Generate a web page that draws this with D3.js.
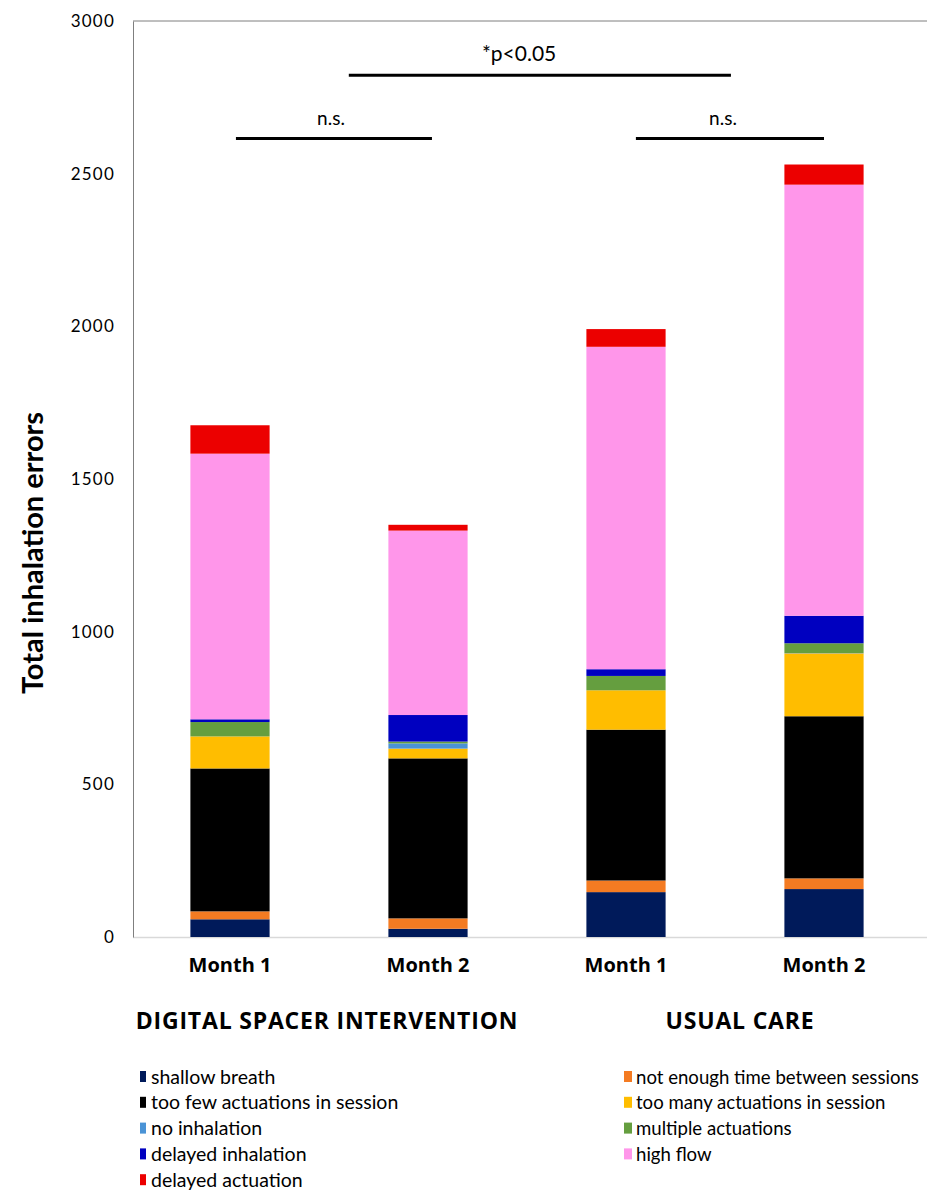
<!DOCTYPE html>
<html>
<head>
<meta charset="utf-8">
<script src="https://cdn.jsdelivr.net/npm/d3@7/dist/d3.min.js"></script>
<style>
  html, body { margin: 0; padding: 0; background: #fff; }
  svg { display: block; font-family: Lato, "Open Sans", sans-serif; }
</style>
</head>
<body>
<svg id="chart" width="927" height="1193"></svg>
<script>
// ---- data ----
const categories = ["Month 1", "Month 2", "Month 1", "Month 2"];
const groups = ["DIGITAL SPACER INTERVENTION", "USUAL CARE"];
const seriesNames = [
  "shallow breath", "not enough time between sessions", "too few actuations in session",
  "too many actuations in session", "no inhalation", "multiple actuations",
  "delayed inhalation", "high flow", "delayed actuation"
];
const seriesColors = ["#001a5a", "#f47b22", "#000000", "#ffbd00", "#4a93d6", "#659e3f", "#0000c0", "#ff96ea", "#ec0000"];
const shallowBreath      = [58, 27, 147, 157];
const notEnoughTime      = [26, 34, 38, 35];
const tooFewActuations   = [468, 524, 494, 531];
const tooManyActuations  = [105, 32, 129, 206];
const noInhalation       = [0, 17, 0, 1];
const multipleActuations = [47, 6, 47, 32];
const delayedInhalation  = [9, 87, 22, 90];
const highFlow           = [870, 604, 1056, 1412];
const delayedActuation   = [93, 19, 58, 66];
const yTicks = [0, 500, 1000, 1500, 2000, 2500, 3000];
const sigLabels = ["n.s.", "n.s.", "*p<0.05"];
const sigLevels = [2615, 2615, 2822];
const sigFrom = [0.03, 2.05, 0.6];
const sigTo = [1.02, 3.0, 2.53];
const sigTextAt = [0.51, 2.49, 1.46];

const seriesValues = [shallowBreath, notEnoughTime, tooFewActuations, tooManyActuations,
  noInhalation, multipleActuations, delayedInhalation, highFlow, delayedActuation];

const rows = categories.map((c, i) => {
  const r = { idx: i };
  seriesNames.forEach((s, k) => { r[s] = seriesValues[k][i]; });
  return r;
});

// ---- layout ----
const svg = d3.select("#chart");
const plotLeft = 133, plotTop = 21, plotBottom = 937, plotRight = 927;

const x = d3.scaleBand().domain(d3.range(categories.length)).range([131, 923])
  .paddingInner(0.6).paddingOuter(0.3);
const y = d3.scaleLinear().domain([0, 3000]).range([plotBottom, plotTop]);
const xi = d3.scaleLinear().domain([0, 3])
  .range([x(0) + x.bandwidth() / 2, x(3) + x.bandwidth() / 2]);

// frame
svg.append("line").attr("x1", plotLeft).attr("x2", plotRight).attr("y1", plotTop).attr("y2", plotTop)
  .attr("stroke", "#7f7f7f").attr("stroke-width", 1);
svg.append("line").attr("x1", plotLeft).attr("x2", plotRight).attr("y1", plotBottom + 0.5).attr("y2", plotBottom + 0.5)
  .attr("stroke", "#d9d9d9").attr("stroke-width", 1.5);

// y axis
const yAxis = d3.axisLeft(y).tickValues(yTicks).tickSize(0).tickPadding(18).tickFormat(d3.format("d"));
const gy = svg.append("g").attr("transform", `translate(${plotLeft},0)`).call(yAxis);
gy.select(".domain").attr("stroke", "#7f7f7f");
gy.selectAll("text").attr("font-size", 17).attr("fill", "#000")
  .attr("letter-spacing", 1.2)
  .attr("font-family", "Lato, sans-serif");

svg.append("text")
  .attr("transform", `translate(36,553) rotate(-90)`)
  .attr("text-anchor", "middle")
  .attr("font-size", 29).attr("font-weight", "bold")
  .attr("dominant-baseline", "middle")
  .text("Total inhalation errors");

// bars
const stack = d3.stack().keys(seriesNames)(rows);
const color = d3.scaleOrdinal().domain(seriesNames).range(seriesColors);
svg.append("g").selectAll("g").data(stack).join("g")
  .attr("fill", d => color(d.key))
  .selectAll("rect").data(d => d).join("rect")
  .attr("x", d => x(d.data.idx))
  .attr("width", x.bandwidth())
  .attr("y", d => y(d[1]))
  .attr("height", d => Math.max(0, y(d[0]) - y(d[1])));

// x labels
const xAxis = d3.axisBottom(x).tickSize(0).tickPadding(21).tickFormat(i => categories[i]);
const gx = svg.append("g").attr("transform", `translate(0,${plotBottom})`).call(xAxis);
gx.select(".domain").remove();
gx.selectAll("text").attr("font-size", 20).attr("font-weight", "bold").attr("fill", "#000")
  .attr("font-family", "'Open Sans', sans-serif");

// group labels
svg.selectAll("text.group").data(groups).join("text").attr("class", "group")
  .attr("x", (d, i) => i === 0 ? 327 : 740)
  .attr("y", 1029)
  .attr("text-anchor", "middle").attr("font-size", 23).attr("font-weight", "bold")
  .attr("letter-spacing", 0.8)
  .attr("font-family", "'Open Sans', sans-serif")
  .text(d => d);

// significance
const sig = svg.append("g");
sig.selectAll("line").data(sigLabels).join("line")
  .attr("x1", (d, i) => xi(sigFrom[i])).attr("x2", (d, i) => xi(sigTo[i]))
  .attr("y1", (d, i) => y(sigLevels[i])).attr("y2", (d, i) => y(sigLevels[i]))
  .attr("stroke", "#000").attr("stroke-width", 3);
sig.selectAll("text").data(sigLabels).join("text")
  .attr("x", (d, i) => xi(sigTextAt[i]))
  .attr("y", (d, i) => y(sigLevels[i]) - 14)
  .attr("text-anchor", "middle")
  .attr("font-size", (d, i) => i === 2 ? 21 : 19)
  .text(d => d);

// legend
const legendX = [140, 624];
const legendY0 = 1077, legendDy = 25.8;
const leg = svg.append("g").selectAll("g").data(seriesNames).join("g")
  .attr("transform", (d, i) => `translate(${legendX[i % 2]},${legendY0 + Math.floor(i / 2) * legendDy})`);
leg.append("rect").attr("x", 0).attr("y", -6).attr("width", (d, i) => i % 2 ? 8 : 6).attr("height", 11)
  .attr("fill", d => color(d));
leg.append("text").attr("x", (d, i) => i % 2 ? 12 : 11).attr("y", 6.5)
  .attr("font-size", (d, i) => i % 2 ? 18.6 : 19.5).text(d => d);
</script>
</body>
</html>
